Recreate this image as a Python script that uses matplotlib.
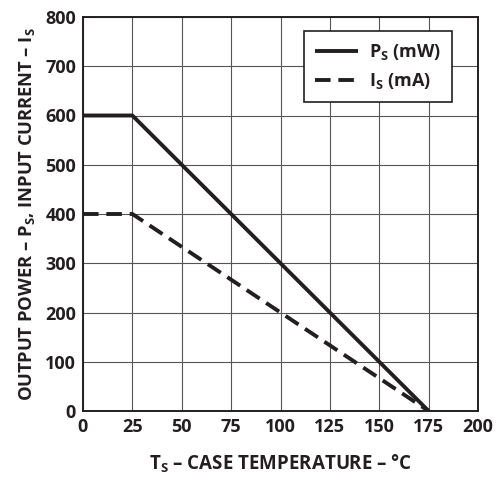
import matplotlib
matplotlib.use("Agg")
import matplotlib.pyplot as plt

# safety limiting curves
temp_c = [0, 25, 175]
power_mw = [600, 600, 0]
current_ma = [400, 400, 0]

xticks = [0, 25, 50, 75, 100, 125, 150, 175, 200]
yticks = [0, 100, 200, 300, 400, 500, 600, 700, 800]

plt.rcParams['font.family'] = ['Open Sans', 'DejaVu Sans']
plt.rcParams['font.weight'] = 'bold'
plt.rcParams['mathtext.fontset'] = 'custom'
plt.rcParams['mathtext.rm'] = 'Open Sans:bold'
plt.rcParams['mathtext.it'] = 'Open Sans:bold'
plt.rcParams['mathtext.bf'] = 'Open Sans:bold'

ink = '#231f20'

fig = plt.figure(figsize=(4.97, 4.8), dpi=100)
ax = fig.add_axes([83/497., 1 - 411/480., 395/497., 394/480.])

ax.plot(temp_c, power_mw, color=ink, lw=2.8, solid_capstyle='butt', label=r'P$_\mathrm{S}$ (mW)')
ax.plot(temp_c, current_ma, color=ink, lw=2.8, dashes=(4, 2.0), label=r'I$_\mathrm{S}$ (mA)')

ax.set_xlim(0, 200)
ax.set_ylim(0, 800)
ax.set_xticks(xticks)
ax.set_yticks(yticks)
ax.grid(True, color='#555555', lw=0.8)
ax.set_axisbelow(True)
for s in ax.spines.values():
    s.set_linewidth(1.4)
    s.set_color(ink)
ax.tick_params(length=0, labelsize=13, colors=ink, pad=5)
for lab in ax.get_xticklabels() + ax.get_yticklabels():
    lab.set_fontweight('bold')

ax.set_xlabel(r'T$_\mathrm{S}$ – CASE TEMPERATURE – °C', fontsize=13.5, fontweight='bold', color=ink, labelpad=12)
ax.set_ylabel(r'OUTPUT POWER – P$_\mathrm{S}$, INPUT CURRENT – I$_\mathrm{S}$', fontsize=13.2, fontweight='bold', color=ink, labelpad=6)

leg = ax.legend(loc='upper right', bbox_to_anchor=(0.934, 0.964), frameon=True,
                fancybox=False, framealpha=1, edgecolor=ink, handlelength=2.4,
                borderaxespad=0, borderpad=0.6, labelspacing=0.5, handletextpad=0.6,
                prop={'weight': 'bold', 'size': 13})
leg.get_frame().set_linewidth(1.2)
for t in leg.get_texts():
    t.set_color(ink)

fig.savefig('out.png', dpi=100)
